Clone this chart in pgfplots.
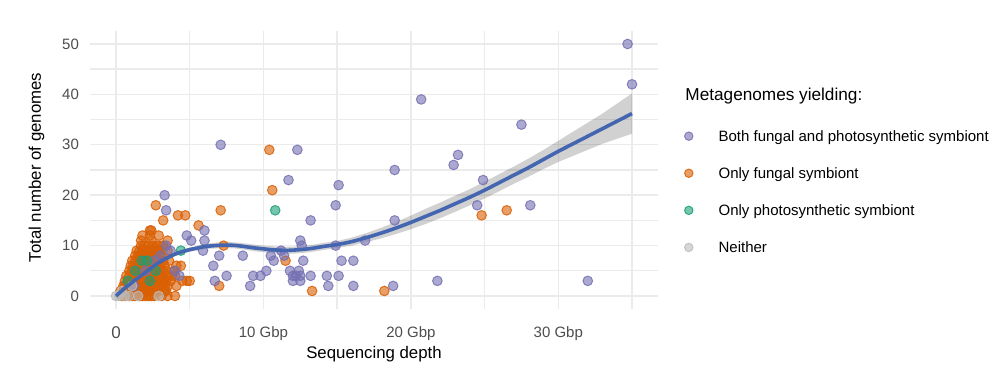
\documentclass[border=0pt]{standalone}
\usepackage{pgfplots}
\pgfplotsset{compat=1.18}
\usepackage{pgfplotstable}
\usepgfplotslibrary{fillbetween}
\usepackage{fontspec}
\setmainfont{Liberation Sans}
\definecolor{cboth}{HTML}{7570B3}
\definecolor{cfun}{HTML}{D95F02}
\definecolor{cpho}{HTML}{1B9E77}
\definecolor{cnei}{HTML}{BBBBBB}
\definecolor{cline}{HTML}{4466B0}
\definecolor{cgrid}{HTML}{EBEBEB}
\definecolor{ctick}{HTML}{4D4D4D}

\pgfplotstableread{
x y lo hi
0 0 -0.6 0.6
0.5 1.3 0.75 1.85
1 2.5 2.0 3.0
1.5 3.6 3.15 4.05
2 4.7 4.28 5.12
2.5 5.8 5.4 6.2
3 6.8 6.4 7.2
3.5 7.6 7.2 8.0
4 8.3 7.9 8.7
4.5 8.8 8.4 9.2
5 9.2 8.8 9.6
5.5 9.5 9.05 9.95
6 9.8 9.3 10.3
6.5 9.95 9.4 10.5
7 10.05 9.45 10.65
7.5 10.1 9.5 10.7
8 10.05 9.45 10.65
8.5 9.9 9.3 10.5
9 9.7 9.05 10.35
9.5 9.5 8.85 10.15
10 9.35 8.7 10.0
10.5 9.2 8.5 9.9
11 9.1 8.4 9.8
11.5 9.05 8.35 9.75
12 9.1 8.4 9.8
12.5 9.2 8.5 9.9
13 9.35 8.65 10.05
13.5 9.55 8.85 10.25
14 9.8 9.1 10.5
14.5 10.0 9.3 10.7
15 10.2 9.5 10.9
16 10.8 10.0 11.6
17 11.6 10.7 12.5
18 12.5 11.45 13.55
19 13.5 12.3 14.7
20 14.6 13.25 15.95
21 15.8 14.3 17.3
22 17.0 15.45 18.55
23 18.3 16.7 19.9
24 19.6 18.0 21.2
25 21.0 19.35 22.65
26 22.5 20.8 24.2
27 24.0 22.3 25.7
28 25.5 23.7 27.3
29 27.1 25.2 29.0
30 28.7 26.6 30.8
31 30.2 27.8 32.6
32 31.7 29.0 34.4
33 33.2 30.2 36.2
34 34.7 31.2 38.2
35 36.2 32.2 40.2
}\smoothtab

\pgfplotsset{
  pts/.style={only marks, mark=*, mark size=2.4pt, forget plot,
    mark options={fill=#1, fill opacity=0.6, draw=#1, draw opacity=0.85, line width=0.5pt}},
  lg/.style={legend image code/.code={\draw[only marks, mark=*, mark size=2.1pt,
    mark options={fill=#1, fill opacity=0.6, draw=#1, draw opacity=0.85, line width=0.5pt}]
    plot coordinates {(0pt,0pt)};}}
}

\begin{document}
\begin{tikzpicture}
\begin{axis}[
  at={(0,0)}, anchor=south west,
  scale only axis, width=283.8pt, height=138.6pt,
  xmin=-1.75, xmax=36.75, ymin=-2.5, ymax=52.5,
  xtick={0,5,...,35}, xticklabels={\fontsize{8.5}{10}\selectfont 0,,10 Gbp,,20 Gbp,,30 Gbp,},
  ytick={0,5,...,50}, yticklabels={0,,10,,20,,30,,40,,50},
  grid=major, major grid style={cgrid, line width=0.7pt},
  major tick length=0pt,
  axis line style={draw=none},
  /pgf/number format/assume math mode=true,
  tick label style={font=\fontsize{7.5}{9}\selectfont, text=ctick, inner sep=0pt},
  xticklabel style={anchor=north, yshift=-9pt},
  yticklabel style={anchor=east, xshift=-5.45pt},
  xlabel={Sequencing depth}, ylabel={Total number of genomes},
  every axis x label/.style={at={(axis description cs:0.5,0)}, anchor=center, yshift=-22.7pt, inner sep=0pt, font=\fontsize{8.4}{10}\selectfont},
  every axis y label/.style={at={(axis description cs:-0.0946,0.509)}, rotate=90, anchor=center, inner sep=0pt, font=\fontsize{8.4}{10}\selectfont},
  clip mode=individual,
  legend cell align=left,
  legend style={draw=none, fill=none, at={(1.0465,0.656)}, anchor=north west, inner sep=0pt,
    row sep=9.55pt, font=\fontsize{7.5}{9}\selectfont,
    nodes={inner sep=0pt, text height=7pt, text depth=2pt},
    /tikz/every odd column/.append style={column sep=12.8pt}},
]
% Only fungal symbiont
\addplot[pts=cfun] coordinates {
(0.6,0)(0.9,0)(1.3,0)(1.8,0)(2.2,0)(2.6,0)(3.1,0)
(0.3,1)(0.7,1)(1.0,1)(1.4,1)(1.7,1)(2.1,1)(2.5,1)(2.9,1)(3.4,1)(13.3,1)(18.2,1)
(0.5,2)(0.8,2)(1.2,2)(1.5,2)(1.9,2)(2.3,2)(2.7,2)(3.3,2)(4.1,2)(7.0,2)
(0.6,3)(1.0,3)(1.3,3)(1.6,3)(2.0,3)(2.4,3)(2.8,3)(3.2,3)(3.7,3)(4.8,3)(5.0,3)
(0.7,4)(1.1,4)(1.4,4)(1.8,4)(2.1,4)(2.5,4)(2.9,4)(3.5,4)(4.0,4)
(0.9,5)(1.2,5)(1.6,5)(1.9,5)(2.2,5)(2.6,5)(3.0,5)(3.4,5)(3.9,5)
(1.0,6)(1.4,6)(1.7,6)(2.0,6)(2.4,6)(2.8,6)(3.3,6)(4.1,6)(4.4,6)
(1.1,7)(1.5,7)(1.8,7)(2.1,7)(2.5,7)(2.9,7)(3.6,7)(11.5,7)
(1.3,8)(1.6,8)(2.0,8)(2.3,8)(2.7,8)(3.1,8)
(1.4,9)(1.8,9)(2.2,9)(2.6,9)(3.0,9)(3.5,9)
(1.9,10)(2.2,10)(2.8,10)(3.2,10)(7.3,10)
(1.7,11)(2.4,11)(3.5,11)
(1.8,12)(2.9,12)
(2.4,13)(5.6,14)(3.2,15)
(4.2,16)(4.7,16)(24.8,16)
(7.1,17)(26.5,17)(2.7,18)(10.6,21)(10.4,29)
(0.4,0)(1.1,0)(1.6,0)(2.0,0)(2.4,0)(3.5,0)(4.0,0)
(0.5,1)(1.2,1)(1.9,1)(2.3,1)(2.7,1)(3.3,1)
(0.6,2)(1.0,2)(1.4,2)(1.7,2)(2.1,2)(2.5,2)(2.9,2)(3.5,2)
(0.8,3)(1.2,3)(1.5,3)(1.8,3)(2.2,3)(2.6,3)(3.0,3)(3.4,3)(4.5,3)
(0.9,4)(1.3,4)(1.6,4)(2.0,4)(2.3,4)(2.7,4)(3.1,4)(3.8,4)
(1.1,5)(1.4,5)(1.8,5)(2.1,5)(2.4,5)(2.8,5)(3.2,5)
(1.2,6)(1.6,6)(1.9,6)(2.2,6)(2.6,6)(3.0,6)
(1.3,7)(1.7,7)(2.0,7)(2.3,7)(2.7,7)(3.2,7)
(1.5,8)(1.8,8)(2.2,8)(2.5,8)(2.9,8)
(1.6,9)(2.0,9)(2.4,9)(2.8,9)
(1.7,10)(2.5,10)(3.0,10)
(2.3,12)(2.3,13)
};
% Both fungal and photosynthetic symbiont
\addplot[pts=cboth] coordinates {
(34.7,50)(35.0,42)(20.7,39)(27.5,34)(23.2,28)(22.9,26)(24.9,23)(24.5,18)(28.1,18)(21.8,3)(32.0,3)
(12.3,29)(18.9,25)(11.7,23)(15.1,22)(14.9,18)(13.2,15)(18.9,15)(12.5,11)(12.6,10)(14.9,10)(16.9,11)
(8.6,8)(10.5,8)(11.2,9)(11.4,8)(10.7,7)(12.7,7)(15.3,7)(16.1,7)
(9.3,4)(9.8,4)(10.2,5)(11.8,5)(12.4,5)(12.0,4)(12.2,4)(12.5,4)(12.0,3)(12.5,3)(13.2,4)(14.3,4)(15.1,4)
(9.1,2)(14.4,2)(16.1,2)(18.8,2)
(7.1,30)(3.3,20)(3.4,17)(4.8,12)(5.1,11)(6.0,13)(6.0,11)(5.9,9)(7.0,8)(6.6,6)(7.5,4)(6.7,3)(4.3,4)(4.0,5)
(1.2,2)(2.0,5)(2.6,7)(3.0,8)(3.7,9)(3.4,10)
};
% Only photosynthetic symbiont
\addplot[pts=cpho] coordinates {
(1.75,7)(2.1,7)(0.8,3)(2.3,3)(1.3,5)(2.7,5)(4.4,9)(10.8,17)
};
% Neither
\addplot[pts=cnei] coordinates {
(0,0)(0.2,0)(0.6,0)(0.9,0)(1.5,0)(2.9,0)(1.1,2)(0.4,1)
};
% smooth fit with ribbon
\addplot[name path=hi, draw=none, forget plot] table[x=x, y=hi]{\smoothtab};
\addplot[name path=lo, draw=none, forget plot] table[x=x, y=lo]{\smoothtab};
\addplot[fill=black, fill opacity=0.18, draw=none, forget plot] fill between[of=hi and lo];
\addplot[cline, line width=1.8pt, smooth, forget plot] table[x=x, y=y]{\smoothtab};

\addlegendimage{lg=cboth}\addlegendentry{Both fungal and photosynthetic symbiont}
\addlegendimage{lg=cfun}\addlegendentry{Only fungal symbiont}
\addlegendimage{lg=cpho}\addlegendentry{Only photosynthetic symbiont}
\addlegendimage{lg=cnei}\addlegendentry{Neither}

\node[anchor=west, inner sep=0pt, font=\fontsize{8.6}{10}\selectfont] at (axis description cs:1.048,0.7677) {Metagenomes yielding:};
\end{axis}
\pgfresetboundingbox
\useasboundingbox (-45.1pt,-35.2pt) rectangle (454.9pt,154.3pt);
\end{tikzpicture}
\end{document}
